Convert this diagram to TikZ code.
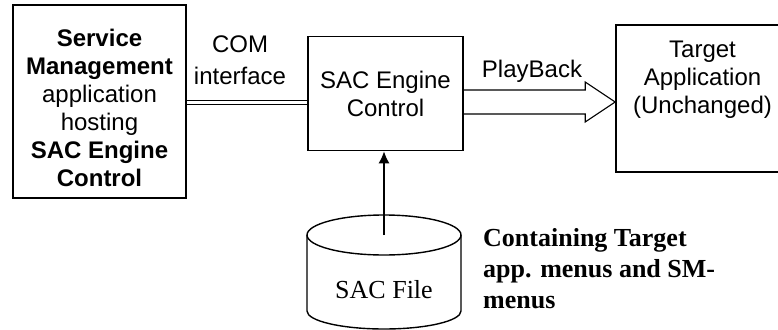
\documentclass[tikz,border=0pt]{standalone}
\usepackage{fontspec}
\setmainfont{Liberation Sans}
\newfontfamily\timesfont{Liberation Serif}
\usetikzlibrary{arrows.meta,calc,positioning}

\begin{document}
\begin{tikzpicture}[x=1pt,y=-1pt,>={Latex[length=12pt,width=11pt]},
  box/.style={draw,line width=1.6pt,inner sep=0pt},
  lbl/.style={font=\fontsize{24}{28}\selectfont,align=center,inner sep=0pt},
  cyl/.style={line width=1.4pt},
  hollow/.style={line width=1.1pt,line join=miter}]
  \useasboundingbox (0,0) rectangle (778,329);
  \clip (0,0) rectangle (778,329);
  \node[box,minimum width=173pt,minimum height=193pt] (host) at (99.5,101.5) {};
  \node[lbl] (hosttext) at (99.5,108) {\textbf{Service}\\\textbf{Management}\\application\\hosting\\\textbf{SAC Engine}\\\textbf{Control}};
  \node[box,lbl,minimum width=155pt,minimum height=114pt] (engine) at (385.5,93.5) {SAC Engine\\Control};
  \node[box,minimum width=190pt,minimum height=147pt] (target) at (711,98.5) {};
  \node[lbl] (targettext) at (702.5,80) {Target\\Application\\(Unchanged)};
  \node[lbl,font=\fontsize{24}{32}\selectfont] (com) at (240,60) {COM\\interface};
  \node[lbl] (playback) at (532,71) {PlayBack};
  \draw[double,double distance=2.5pt,line width=1.4pt] (host.east |- 0,102.5) -- (engine.west |- 0,102.5);
  \coordinate (pbtail) at (engine.east |- 0,102);
  \coordinate (pbtip) at (target.west |- 0,102);
  \draw[hollow] ($(pbtail)+(0,-12)$) -- ($(pbtip)+(-30,-12)$) -- ($(pbtip)+(-30,-20)$) -- (pbtip)
    -- ($(pbtip)+(-30,20)$) -- ($(pbtip)+(-30,12)$) -- ($(pbtail)+(0,12)$);
  \coordinate (filetop) at (384,235);
  \draw[cyl] (filetop) ellipse [x radius=77, y radius=20];
  \draw[cyl] ($(filetop)+(-77,0)$) -- ++(0,76) arc[start angle=180,end angle=0,x radius=77,y radius=18] -- ($(filetop)+(77,0)$);
  \node[font=\timesfont\fontsize{26}{31}\selectfont,inner sep=0pt] (file) at (384,290) {SAC File};
  \draw[->,line width=1.5pt] (filetop) -- (filetop |- engine.south);
  \node[font=\timesfont\bfseries\fontsize{26}{31}\selectfont,align=left,anchor=north west,inner sep=0pt] (note) at (483,228) {Containing Target\\app. menus and SM-\\menus};
\end{tikzpicture}
\end{document}
